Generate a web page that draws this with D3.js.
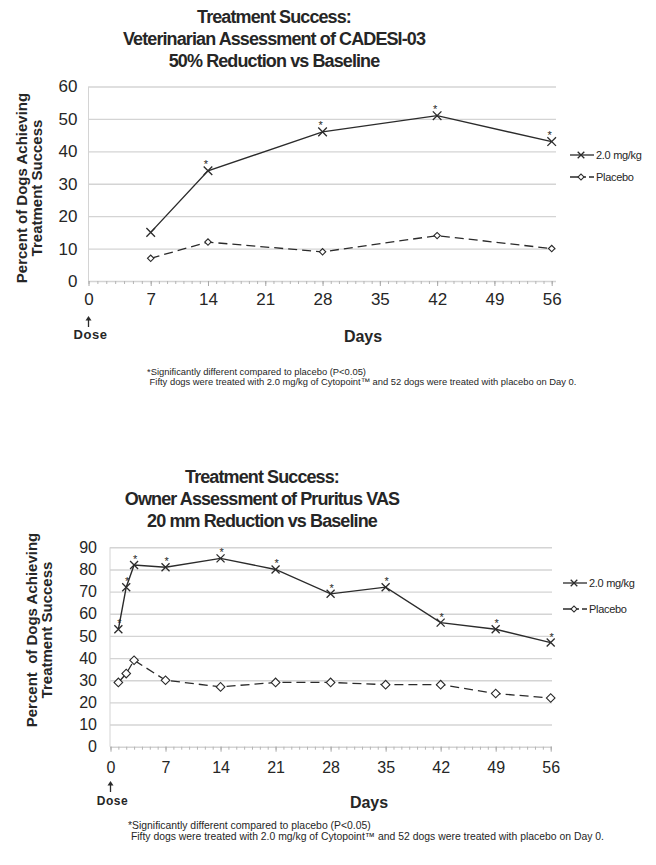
<!DOCTYPE html>
<html>
<head>
<meta charset="utf-8">
<script src="https://cdn.jsdelivr.net/npm/d3@7"></script>
<style>
body{margin:0;background:#fff}
svg text{font-family:"Liberation Sans",Arial,sans-serif;fill:#262626;white-space:pre}
</style>
</head>
<body>
<svg id="canvas" width="656" height="865"></svg>
<script>
// top chart: vet CADESI-03
title1=["Treatment Success:","Veterinarian Assessment of CADESI-03","50% Reduction vs Baseline"]
days1=[7,14,28,42,56]
dose1=[15,34,46,51,43]
placebo1=[7,12,9,14,10]
star1=[14,28,42,56]
yTicks1=[0,10,20,30,40,50,60]

// bottom chart: owner pruritus VAS
title2=["Treatment Success:","Owner Assessment of Pruritus VAS","20 mm Reduction vs Baseline"]
days2=[1,2,3,7,14,21,28,35,42,49,56]
dose2=[53,72,82,81,85,80,69,72,56,53,47]
placebo2=[29,33,39,30,27,29,29,28,28,24,22]
star2=[1,2,3,7,14,21,28,35,42,49,56]
yTicks2=[0,10,20,30,40,50,60,70,80,90]

xTicks=[0,7,14,21,28,35,42,49,56]
seriesNames=["2.0 mg/kg","Placebo"]
yTitle1=["Percent of Dogs Achieving","Treatment Success"]
yTitle2=["Percent  of Dogs Achieving","Treatment Success"]
notes=["*Significantly different compared to placebo (P<0.05)"," Fifty dogs were treated with 2.0 mg/kg of Cytopoint\u2122 and 52 dogs were treated with placebo on Day 0."]

INK="#2b2b2b"
GRID="#d4d4d4"

window.onload=function(){
    svg=d3.select("#canvas")
    drawChart(svg,{
        title:title1,days:days1,dose:dose1,placebo:placebo1,stars:star1,yTicks:yTicks1,yTitle:yTitle1,
        xDom:[0,7,56],xRng:[88.5,150.7,551.7],left:88.5,right:556,top:86.5,bottom:281,
        titleX:274,titleY:23,tickFont:17,yPad:11,xPad:7,
        yTitleX:27,yTitleY:188,daysX:363,daysY:342,arrowY:316,doseY:339,doseFont:13,
        legX:570,legY:155,legGap:22,starDx:-2,starDy:3,cross:4.3,diamond:3.2,
        noteX:147,noteY:375,noteFont:9.4,noteGap:9.8
    })
    drawChart(svg,{
        title:title2,days:days2,dose:dose2,placebo:placebo2,stars:star2,yTicks:yTicks2,yTitle:yTitle2,
        xDom:[0,56],xRng:[110.5,550.7],left:110,right:552,top:547.3,bottom:746.7,
        titleX:262,titleY:483,tickFont:16,yPad:13,xPad:10,
        yTitleX:37,yTitleY:630,daysX:369,daysY:808,arrowY:781,doseY:805,doseFont:12,
        legX:563,legY:583,legGap:26,starDx:1,starDy:2,cross:4,diamond:4.3,
        noteX:128,noteY:829,noteFont:10.4,noteGap:10.8
    })
}

function crossPath(r){
    return "M"+(-r)+","+(-r)+"L"+r+","+r+"M"+(-r)+","+r+"L"+r+","+(-r)
}

function drawChart(svg,o){
    var x=d3.scaleLinear().domain(o.xDom).range(o.xRng)
    var y=d3.scaleLinear().domain([0,d3.max(o.yTicks)]).range([o.bottom,o.top])
    var g=svg.append("g")

    // title, 3 lines
    g.append("text")
        .attr("text-anchor","middle")
        .style("font-size","18px").style("font-weight","bold").style("letter-spacing","-0.9px")
        .selectAll("tspan").data(o.title).enter().append("tspan")
        .attr("x",o.titleX).attr("y",function(d,i){return o.titleY+i*22}).text(function(d){return d})

    // gridlines + y labels
    var gy=g.append("g").attr("transform","translate("+o.left+",0)")
        .call(d3.axisLeft(y).tickValues(o.yTicks).tickSize(-(o.right-o.left)).tickPadding(o.yPad))
    gy.select(".domain").remove()
    gy.selectAll(".tick line").attr("stroke",GRID).attr("stroke-width",1.4)
    gy.selectAll(".tick text").style("font-size",o.tickFont+"px")

    g.append("line").attr("x1",o.left).attr("x2",o.left).attr("y1",o.top).attr("y2",o.bottom)
        .attr("stroke",GRID).attr("stroke-width",1)

    // x axis: minor day ticks then labelled weeks
    var gm=g.append("g").attr("transform","translate(0,"+o.bottom+")")
        .call(d3.axisBottom(x).tickValues(d3.range(0,57)).tickSize(3).tickFormat(""))
    gm.select(".domain").remove()
    gm.selectAll("line").attr("stroke","#b5b5b5")
    var gx=g.append("g").attr("transform","translate(0,"+o.bottom+")")
        .call(d3.axisBottom(x).tickValues(xTicks).tickSize(5).tickPadding(o.xPad))
    gx.select(".domain").remove()
    gx.selectAll(".tick line").attr("stroke","#a8a8a8")
    gx.selectAll(".tick text").style("font-size",o.tickFont+"px")

    // y title
    g.append("text")
        .attr("transform","translate("+o.yTitleX+","+o.yTitleY+") rotate(-90)")
        .attr("text-anchor","middle").style("font-size","15px").style("font-weight","bold")
        .selectAll("tspan").data(o.yTitle).enter().append("tspan")
        .attr("x",0).attr("y",function(d,i){return i*15}).text(function(d){return d})

    g.append("text").attr("x",o.daysX).attr("y",o.daysY).attr("text-anchor","middle")
        .style("font-size","16px").style("font-weight","bold").text("Days")

    // dose arrow under day 0
    var ax=x(0)
    g.append("line").attr("x1",ax).attr("x2",ax).attr("y1",o.arrowY+3).attr("y2",o.arrowY+11)
        .attr("stroke",INK).attr("stroke-width",1.3)
    g.append("path").attr("d","M"+(ax-3)+","+(o.arrowY+4.5)+"L"+ax+","+o.arrowY+"L"+(ax+3)+","+(o.arrowY+4.5)+"Z")
        .attr("fill",INK)
    g.append("text").attr("x",ax+2).attr("y",o.doseY).attr("text-anchor","middle")
        .style("font-size",o.doseFont+"px").style("font-weight","bold").style("letter-spacing","0.6px").text("Dose")

    // lines
    var line=d3.line().x(function(d){return x(d[0])}).y(function(d){return y(d[1])})
    var pl=d3.zip(o.days,o.placebo), ds=d3.zip(o.days,o.dose)
    g.append("path").datum(pl).attr("d",line).attr("fill","none")
        .attr("stroke",INK).attr("stroke-width",1.3).attr("stroke-dasharray","9,5")
    g.append("path").datum(ds).attr("d",line).attr("fill","none")
        .attr("stroke",INK).attr("stroke-width",1.4)

    var dsize=2*o.diamond*o.diamond
    g.selectAll("path.dia").data(pl).enter().append("path").attr("class","dia")
        .attr("d",d3.symbol(d3.symbolSquare,dsize))
        .attr("transform",function(d){return "translate("+x(d[0])+","+y(d[1])+") rotate(45)"})
        .attr("fill","#fff").attr("stroke",INK).attr("stroke-width",1.1)
    g.selectAll("path.crs").data(ds).enter().append("path").attr("class","crs")
        .attr("d",crossPath(o.cross))
        .attr("transform",function(d){return "translate("+x(d[0])+","+y(d[1])+")"})
        .attr("fill","none").attr("stroke",INK).attr("stroke-width",1.3)

    // significance stars
    g.selectAll("text.star").data(ds.filter(function(d){return o.stars.indexOf(d[0])>=0})).enter()
        .append("text").attr("class","star")
        .attr("x",function(d){return x(d[0])+o.starDx})
        .attr("y",function(d){return y(d[1])-o.starDy})
        .attr("text-anchor","middle").style("font-size","11px").text("*")

    // legend
    var lg=g.selectAll("g.leg").data(seriesNames).enter().append("g").attr("class","leg")
        .attr("transform",function(d,i){return "translate("+o.legX+","+(o.legY+i*o.legGap)+")"})
    lg.append("line").attr("x1",0).attr("x2",24).attr("stroke",INK).attr("stroke-width",1.3)
        .attr("stroke-dasharray",function(d,i){return i?"16,3,5":null})
    lg.filter(function(d,i){return i==0}).append("path").attr("d",crossPath(3.3))
        .attr("transform","translate(11,0)").attr("stroke",INK).attr("stroke-width",1.3).attr("fill","none")
    lg.filter(function(d,i){return i==1}).append("path").attr("d",d3.symbol(d3.symbolSquare,18))
        .attr("transform","translate(11,0) rotate(45)").attr("stroke",INK).attr("stroke-width",1.1).attr("fill","#fff")
    lg.append("text").attr("x",26).attr("y",4).style("font-size","11px").style("letter-spacing","-0.3px")
        .text(function(d){return d})

    // footnotes
    g.selectAll("text.note").data(notes).enter().append("text").attr("class","note")
        .attr("x",o.noteX).attr("y",function(d,i){return o.noteY+i*o.noteGap})
        .style("font-size",o.noteFont+"px").text(function(d){return d})
}
</script>
</body>
</html>
